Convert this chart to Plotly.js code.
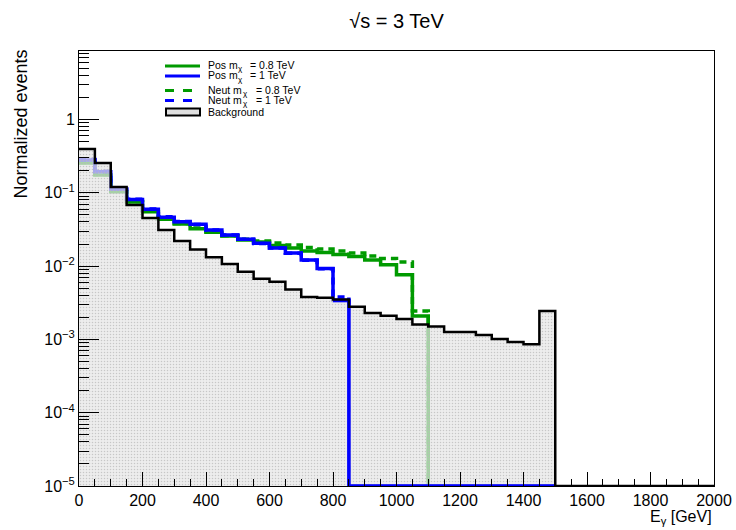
<!DOCTYPE html>
<html><head><meta charset="utf-8">
<script src="https://cdn.plot.ly/plotly-3.0.1.min.js"></script>
<style>html,body{margin:0;padding:0;background:#fff}</style>
</head><body>
<div id="chart" style="width:736px;height:530px"></div>
<script>
// ---- data (bin width 50 GeV, bins start at 0) ----
const binWidth = 50;
const background = [0.396,0.255,0.120,0.0682,0.0453,0.0311,0.0220,0.0169,0.0132,0.0107,0.0084,0.0067,0.0061,0.0048,0.0038,0.0037,0.0035,0.0028,0.0023,0.0021,0.0019,0.0016,0.0015,0.00126,0.00126,0.00115,0.00101,0.00092,0.00086,0.00244,0,0,0,0,0,0,0,0,0,0];
const posM08  = [0.255,0.175,0.1035,0.0749,0.0552,0.0435,0.0375,0.0324,0.0289,0.0257,0.0227,0.0213,0.0191,0.0177,0.0161,0.0153,0.0144,0.0135,0.0121,0.0104,0.0076,0.00208,0,0,0,0,0,0,0,0];
const posM1   = [0.280,0.194,0.1116,0.0810,0.0596,0.0463,0.0403,0.0372,0.0311,0.0266,0.0232,0.0205,0.0177,0.0151,0.0121,0.0093,0.0034,0,0,0,0,0,0,0,0,0,0,0,0,0];
const neutM08 = [0.260,0.178,0.105,0.076,0.056,0.044,0.038,0.033,0.0295,0.026,0.0232,0.0220,0.0207,0.0194,0.0179,0.0171,0.0161,0.0151,0.0137,0.0127,0.0114,0.00244,0,0,0,0,0,0,0,0];
const neutM1  = [0.285,0.197,0.113,0.082,0.060,0.047,0.0405,0.037,0.031,0.0265,0.0232,0.0204,0.0176,0.0150,0.0120,0.0092,0.0038,0,0,0,0,0,0,0,0,0,0,0,0,0];
const seriesNames = ['Pos m<sub>χ</sub> = 0.8 TeV','Pos m<sub>χ</sub> = 1 TeV','Neut m<sub>χ</sub> = 0.8 TeV','Neut m<sub>χ</sub> = 1 TeV','Background'];
const legendPrefix = ['Pos m','Pos m','Neut m','Neut m'];
const legendSub = 'χ';
const legendSuffix = ['= 0.8 TeV','= 1 TeV','= 0.8 TeV','= 1 TeV'];
const xTickVals = [0,200,400,600,800,1000,1200,1400,1600,1800,2000];
const yTickVals = [1e-5,1e-4,1e-3,1e-2,1e-1,1];
const yTickText = ['10<sup>−5</sup>','10<sup>−4</sup>','10<sup>−3</sup>','10<sup>−2</sup>','10<sup>−1</sup>','1'];

// ---- layout constants ----
const W = 736, H = 530, L = 79, R = 22, T = 51, B = 44;
const YMIN_LOG = -5, YMAX_LOG = 0.935;
const FLOOR = Math.pow(10, YMIN_LOG);
const GREEN = '#009a00', BLUE = '#0000ff';
const FONT = 'Liberation Sans, Arial, sans-serif';

// step outline of a histogram, starting from bin index `from`
function stepXY(vals, from) {
  const x = [], y = [];
  for (let i = from; i < vals.length; i++) {
    x.push(i * binWidth);
    y.push(vals[i] > 0 ? vals[i] : FLOOR);
  }
  x.push(vals.length * binWidth);
  y.push(y[y.length - 1]);
  return {x, y};
}
function line(vals, name, color, dash, from) {
  const s = stepXY(vals, from || 0);
  return {type:'scatter', mode:'lines', x:s.x, y:s.y, name:name, showlegend:false,
          line:{shape:'hv', color:color, width:3.5, dash:dash}, hoverinfo:'skip'};
}
const bg = stepXY(background, 0);
const traces = [
  line(posM08, seriesNames[0], GREEN, 'solid'),
  line(neutM08, seriesNames[2], GREEN, '7px,5px'),
  line(posM1, seriesNames[1], BLUE, 'solid'),
  line(neutM1, seriesNames[3], BLUE, '7px,5px'),
  {type:'scatter', mode:'lines', x:bg.x, y:bg.y, name:seriesNames[4], showlegend:false,
   line:{shape:'hv', width:0, color:'rgba(0,0,0,0)'}, fill:'tozeroy',
   fillcolor:'rgba(228,228,228,0.72)',
   fillpattern:{shape:'.', bgcolor:'rgba(230,230,230,0.72)', fgcolor:'rgba(185,185,185,0.75)', size:3, solidity:0.2},
   hoverinfo:'skip'},
  // the 1 TeV charged signal drawn on top of the fill where it drops out
  line(posM1, seriesNames[1], BLUE, 'solid', 16),
  {type:'scatter', mode:'lines', x:bg.x, y:bg.y, name:seriesNames[4], showlegend:false,
   line:{shape:'hv', width:2.5, color:'#000'}, hoverinfo:'skip'}
];

// minor tick positions for the log axis
const yMinor = [];
for (let d = -5; d <= 0; d++) for (let k = 2; k <= 9; k++) yMinor.push(k * Math.pow(10, d));

const px = v => (v - L) / (W - L - R);
const py = v => (H - B - v) / (H - T - B);

// hand-built legend
const legendRows = [
  {y:66, color:GREEN, dash:'solid', ty:65, subX:236.5, sufX:249},
  {y:76, color:BLUE, dash:'solid', ty:75.5, subX:236.5, sufX:249},
  {y:90.5, color:GREEN, dash:'dash', ty:90, subX:242, sufX:255},
  {y:100.5, color:BLUE, dash:'dash', ty:100, subX:242, sufX:255}
];
const shapes = legendRows.map(r => ({type:'line', xref:'paper', yref:'paper', layer:'above',
  x0:px(165), x1:px(200), y0:py(r.y), y1:py(r.y), line:{color:r.color, width:3, dash:r.dash}}));
shapes.push({type:'rect', xref:'paper', yref:'paper', layer:'above',
  x0:px(166), x1:px(200), y0:py(108.5), y1:py(115.5), fillcolor:'#e0e0e0', line:{color:'#000', width:2}});
const annotations = [];
const legFont = {family:FONT, size:10.5, color:'#000'};
legendRows.forEach((r, i) => {
  annotations.push({xref:'paper', yref:'paper', x:px(207), y:py(r.ty), xanchor:'left', yanchor:'middle',
    text:legendPrefix[i], showarrow:false, borderpad:0, font:legFont});
  annotations.push({xref:'paper', yref:'paper', x:px(r.subX), y:py(r.ty + 3.5), xanchor:'left', yanchor:'middle',
    text:legendSub, showarrow:false, borderpad:0, font:{family:FONT, size:8, color:'#000'}});
  annotations.push({xref:'paper', yref:'paper', x:px(r.sufX), y:py(r.ty), xanchor:'left', yanchor:'middle',
    text:legendSuffix[i], showarrow:false, borderpad:0, font:legFont});
});
annotations.push({xref:'paper', yref:'paper', x:px(207), y:py(111.5), xanchor:'left', yanchor:'middle',
  text:seriesNames[4], showarrow:false, borderpad:0, font:legFont});
annotations.push({xref:'paper', yref:'paper', x:0, xshift:-(L - 20.5), y:py(124), xanchor:'center', yanchor:'middle',
  textangle:-90, text:'Normalized events', showarrow:false, font:{family:FONT, size:18, color:'#000'}});
annotations.push({xref:'paper', yref:'paper', x:1, y:0, yshift:-(517 - (H - B)), xanchor:'right', yanchor:'middle',
  align:'right', text:'E<sub>γ</sub> [GeV]', showarrow:false, font:{family:FONT, size:16, color:'#000'}});

const layout = {
  width:W, height:H, margin:{l:L, r:R, t:T, b:B, pad:0},
  paper_bgcolor:'#fff', plot_bgcolor:'#fff', showlegend:false,
  font:{family:FONT, color:'#000'},
  title:{text:'√s = 3 TeV', xref:'paper', x:0.5, xanchor:'center', yref:'container', y:1 - 21/H, yanchor:'middle',
         font:{family:FONT, size:20, color:'#000'}},
  xaxis:{range:[0,2000], tickmode:'array', tickvals:xTickVals, ticks:'inside', ticklen:14, tickwidth:1, tickcolor:'#000',
         minor:{dtick:binWidth, ticks:'inside', ticklen:7, tickcolor:'#000', showgrid:false},
         showgrid:false, zeroline:false, showline:true, linecolor:'#000', linewidth:1, mirror:true,
         tickfont:{family:FONT, size:16, color:'#000'}},
  yaxis:{type:'log', range:[YMIN_LOG, YMAX_LOG], tickmode:'array', tickvals:yTickVals, ticktext:yTickText,
         ticks:'inside', ticklen:20, tickwidth:1, tickcolor:'#000',
         minor:{tickmode:'array', tickvals:yMinor, ticks:'inside', ticklen:10, tickcolor:'#000', showgrid:false},
         showgrid:false, zeroline:false, showline:true, linecolor:'#000', linewidth:1, mirror:true,
         tickfont:{family:FONT, size:16, color:'#000'}},
  shapes:shapes, annotations:annotations
};
Plotly.newPlot('chart', traces, layout, {staticPlot:true, displayModeBar:false});
</script>
</body></html>
